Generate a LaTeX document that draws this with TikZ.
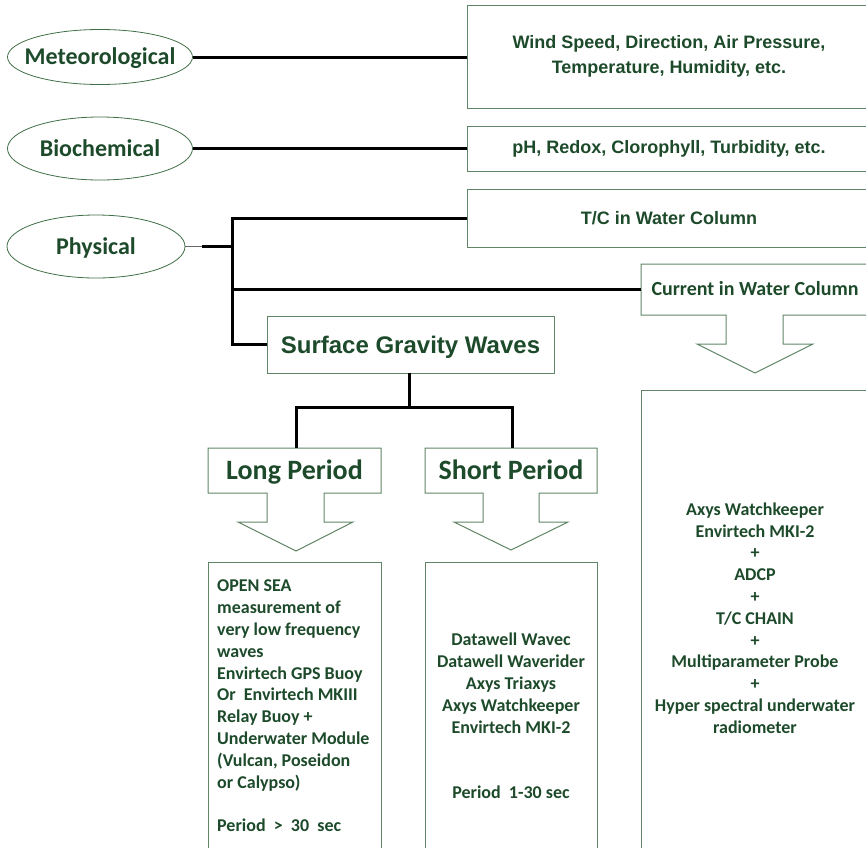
\documentclass[tikz,border=0pt]{standalone}
\usepackage{fontspec}
\setmainfont{Carlito}
\newfontfamily\arialb{Liberation Sans}
\usetikzlibrary{shapes.geometric}
\definecolor{txtgreen}{HTML}{1D4A2A}
\definecolor{boxline}{HTML}{5F8466}
\definecolor{ellline}{HTML}{3F6E47}
\begin{document}
\begin{tikzpicture}[x=1pt,y=-1pt,
  conn/.style={line width=3pt, black},
  thinconn/.style={line width=1.2pt, black!60},
  frame/.style={draw=boxline, line width=1pt},
  boxnode/.style={inner sep=0pt, outer sep=0pt, anchor=north west, text=txtgreen},
  ell/.style={ellipse, draw=ellline, line width=0.8pt, inner sep=0pt, outer sep=0pt},
  elltext/.style={inner sep=0pt, text=txtgreen, font=\bfseries\fontsize{24}{28}\selectfont,
    text height=15.5pt, text depth=0pt},
  artext/.style={font=\arialb\bfseries\fontsize{18}{24.5}\selectfont, align=center},
  arbig/.style={font=\arialb\bfseries\fontsize{24}{28}\selectfont, text height=17.2pt, text depth=0pt},
  cabig/.style={font=\bfseries\fontsize{28}{32}\selectfont, text height=18pt, text depth=0pt},
  camid/.style={font=\bfseries\fontsize{20}{24}\selectfont, text height=12.9pt, text depth=0pt},
  catext/.style={font=\bfseries\fontsize{18}{21.8}\selectfont, text=txtgreen, inner sep=0pt}
]
\useasboundingbox (0,0) rectangle (866,847);
\clip (0,0) rectangle (866,847);

% ellipses
\node[ell, minimum width=185pt, minimum height=55pt] (met) at (100,57) {};
\node[elltext] (metl) at (met.center) {Meteorological};
\node[ell, minimum width=185pt, minimum height=63pt] (bio) at (100,148.5) {};
\node[elltext] (biol) at (bio.center) {Biochemical};
\node[ell, minimum width=178pt, minimum height=63pt] (phys) at (96,246.5) {};
\node[elltext] (physl) at (phys.center) {Physical};

% right boxes
\node[boxnode, frame, artext, minimum width=404pt, minimum height=103pt] (wind) at (467,5)
  {Wind Speed, Direction, Air Pressure,\\Temperature, Humidity, etc.};
\node[boxnode, frame, artext, minimum width=404pt, minimum height=45pt] (bioc) at (467,126)
  {pH, Redox, Clorophyll, Turbidity, etc.};
\node[boxnode, frame, artext, minimum width=404pt, minimum height=58pt] (tc) at (467,189)
  {T/C in Water Column};

% current callout
\node[boxnode, camid, minimum width=228pt, minimum height=51pt] (cur) at (641,264)
  {Current in Water Column};
\draw[frame] (cur.south west) -- (cur.north west) -- (cur.north east) -- (cur.south east)
  -- (783,315) -- (783,344) -- (813,344) -- (755,373) -- (697,344) -- (726,344) -- (726,315) -- cycle;

\node[boxnode, frame, minimum width=228pt, minimum height=458pt] (rbox) at (641,390) {};
\node[catext, align=center] (rtext) at (755,618)
  {Axys Watchkeeper\\Envirtech MKI-2\\+\\ADCP\\+\\T/C CHAIN\\+\\Multiparameter Probe\\+\\Hyper spectral underwater\\radiometer};

% surface gravity waves
\node[boxnode, frame, arbig, minimum width=287pt, minimum height=57pt] (sgw) at (267,316)
  {Surface Gravity Waves};

% long period callout
\node[boxnode, cabig, minimum width=173pt, minimum height=45pt] (long) at (208,448)
  {Long Period};
\draw[frame] (long.south west) -- (long.north west) -- (long.north east) -- (long.south east)
  -- (324,493) -- (324,522) -- (353,522) -- (296,551) -- (238,522) -- (267,522) -- (267,493) -- cycle;

% short period callout
\node[boxnode, cabig, minimum width=172pt, minimum height=45pt] (short) at (425,448)
  {Short Period};
\draw[frame] (short.south west) -- (short.north west) -- (short.north east) -- (short.south east)
  -- (539,493) -- (539,522) -- (568,522) -- (511,550) -- (454,522) -- (483,522) -- (483,493) -- cycle;

% lower boxes
\node[boxnode, frame, minimum width=173pt, minimum height=320pt] (lbox) at (208,562) {};
\node[catext, align=left, anchor=west] (ltext) at (217,706)
  {OPEN SEA\\measurement of\\very low frequency\\waves\\Envirtech GPS Buoy\\Or~ Envirtech MKIII\\Relay Buoy +\\Underwater Module\\(Vulcan, Poseidon\\or Calypso)\\[21.8pt]Period~ >~ 30~ sec};

\node[boxnode, frame, minimum width=172pt, minimum height=320pt] (sbox) at (425,562) {};
\node[catext, align=center] (stext) at (511,716)
  {Datawell Wavec\\Datawell Waverider\\Axys Triaxys\\Axys Watchkeeper\\Envirtech MKI-2\\[43.6pt]Period~ 1-30 sec};

% connectors
\draw[conn] (met.east) -- (met.east -| wind.west);
\draw[conn] (bio.east) -- (bio.east -| bioc.west);
\coordinate (pk) at (202,246.5);
\coordinate (vtop) at (232,218);
\coordinate (vmid) at (232,246.5);
\coordinate (vbot) at (232,344.5);
\draw[thinconn] (phys.east) -- (pk);
\draw[conn] (pk) -- (vmid);
\draw[conn] (tc.west) -- (vtop) -- (vbot) -- (sgw.west);
\draw[conn] (cur.west) -- (cur.west -| vtop);
\coordinate (sj) at (409,407);
\draw[conn] (sgw.south -| sj) -- (sj);
\draw[conn] (long.north -| 296,0) |- (sj) -| (short.north -| 512,0);
\end{tikzpicture}
\end{document}
